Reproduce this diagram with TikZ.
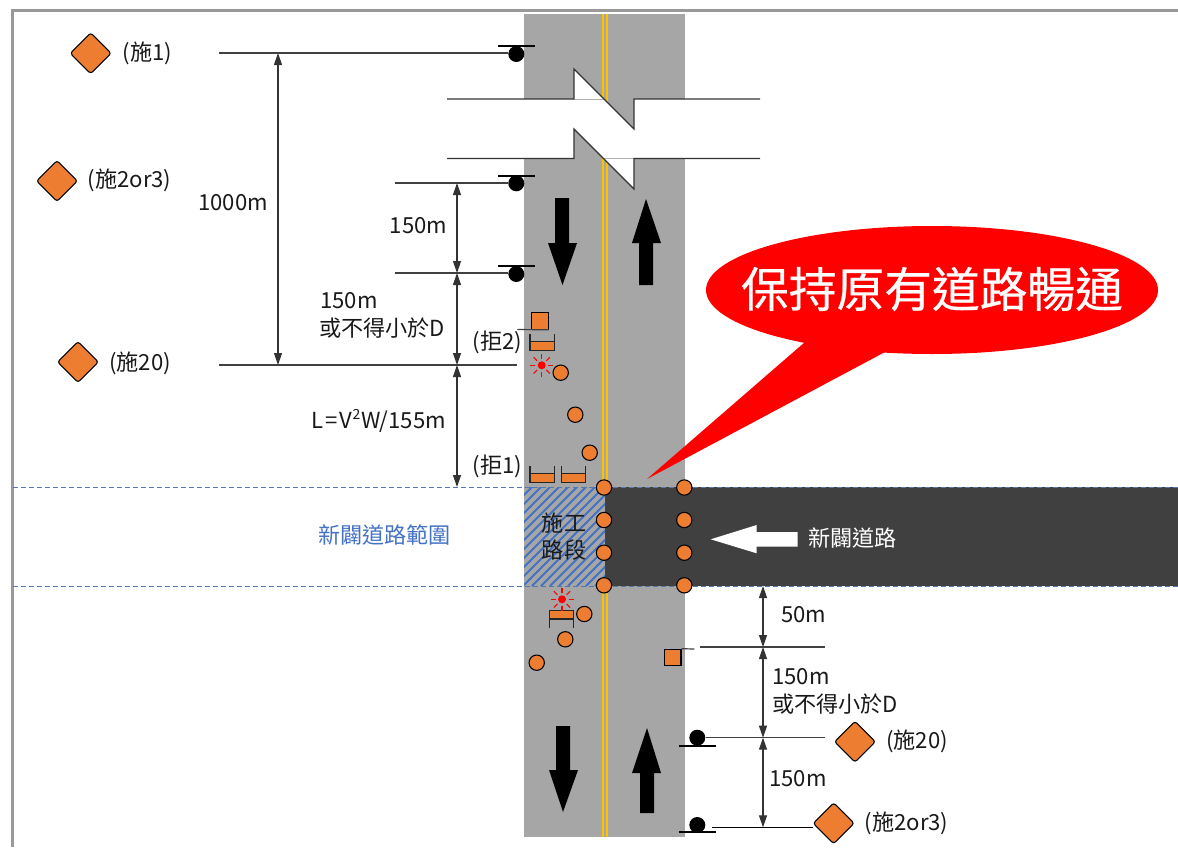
\documentclass[tikz,border=0pt]{standalone}
\usepackage{fontspec}
\setmainfont{Noto Sans CJK TC}
\usetikzlibrary{shapes.geometric,arrows.meta,calc}
\definecolor{sorange}{HTML}{ED7D31}
\definecolor{sblue}{HTML}{4472C4}
\definecolor{road}{HTML}{A6A6A6}
\definecolor{dark}{HTML}{404040}
\definecolor{syellow}{HTML}{FFC000}
\tikzset{
 x=0.75pt,y=-0.75pt,
 diasign/.style={diamond,aspect=1,draw=black,fill=sorange,line width=0.8pt,rounded corners=2pt,minimum size=31pt,inner sep=0pt},
 cone/.style={circle,draw=black,fill=sorange,line width=0.8pt,minimum size=11.5pt,inner sep=0pt},
 post/.style={circle,fill=black,minimum size=12pt,inner sep=0pt},
 postbar/.style={line width=1.6pt,black},
 sq/.style={rectangle,draw=black,fill=sorange,line width=0.8pt,minimum size=12.4pt,inner sep=0pt},
 lead/.style={line width=0.9pt,draw=black!75},
 dim/.style={line width=0.9pt,draw=black!80,{Triangle[length=9pt,width=6pt]}-{Triangle[length=9pt,width=6pt]}},
 lab/.style={font=\fontsize{16.6pt}{18pt}\selectfont,text=black!90,inner sep=0pt,align=left},
 boundary/.style={line width=0.6pt,draw=sblue!70!gray,dash pattern=on 4pt off 2pt},
 breakline/.style={line width=0.9pt,draw=black!80},
 roadarrow/.style={fill=black,draw=none},
 lamp/.style={circle,fill=red,minimum size=6pt,inner sep=0pt},
 lampray/.style={red,line width=0.8pt},
 barrier/.style={draw=black!85,line width=0.8pt},
}
\newcommand{\lamprays}[1]{\foreach \a in {0,45,...,315}{\draw[lampray] ($(#1)+(\a:6.5)$) -- ($(#1)+(\a:11.5)$);}}
\begin{document}
\begin{tikzpicture}
\useasboundingbox (0,0) rectangle (1178,847);
\fill[white] (0,0) rectangle (1178,847);
% frame
\draw[line width=1.6pt,draw=black!40] (12.5,847) -- (12.5,10.5) -- (1178,10.5);
% road
\fill[road] (524,14) rectangle (685,837);
\fill[dark] (605,487) rectangle (1178,586);
% hatch
\begin{scope}
\clip (524,487) rectangle (605,586);
\fill[road] (524,487) rectangle (605,586);
\foreach \i in {0,9,...,207}{\draw[sblue,line width=1.5pt] (524+\i-100,586) -- (524+\i,486);}
\end{scope}
% yellow
\draw[syellow,line width=1.5pt] (602.7,14) -- (602.7,487) (602.7,586) -- (602.7,837);
\draw[syellow,line width=1.5pt] (606.7,14) -- (606.7,487) (606.7,586) -- (606.7,837);
% break
\fill[white] (447,99) -- (574,99) -- (574,69) -- (634,129) -- (634,99) -- (760,99) -- (760,158.5) -- (634,158.5) -- (634,189) -- (574,129) -- (574,158.5) -- (447,158.5) -- cycle;
\draw[line width=0.5pt,black!30] (574,99) -- (604,99) (604,158.5) -- (634,158.5);
\draw[breakline] (447,99) -- (574,99) -- (574,69) -- (634,129) -- (634,99) -- (760,99);
\draw[breakline] (447,158.5) -- (574,158.5) -- (574,129) -- (634,189) -- (634,158.5) -- (760,158.5);
% boundaries
\draw[boundary] (13,487) -- (1178,487);
\draw[boundary] (13,586) -- (1178,586);
% road arrows
\fill[roadarrow] (555,198) -- (569,198) -- (569,243) -- (577,243) -- (562.5,285) -- (548,243) -- (555,243) -- cycle;
\fill[roadarrow] (639,285) -- (653,285) -- (653,243) -- (661,243) -- (646,199) -- (632,243) -- (639,243) -- cycle;
\fill[roadarrow] (556,726) -- (570,726) -- (570,770) -- (578,770) -- (563,812) -- (549,770) -- (556,770) -- cycle;
\fill[roadarrow] (640,813) -- (654,813) -- (654,773) -- (661,773) -- (647,728) -- (632,773) -- (640,773) -- cycle;
\fill[white] (797.7,532) -- (756.7,532) -- (756.7,525) -- (710.7,539.3) -- (756.7,553.3) -- (756.7,546.7) -- (797.7,546.7) -- cycle;
% callout
\fill[red] (647,479) -- (805,342) -- (885,352) -- cycle;
\node[ellipse,fill=red,minimum width=339pt,minimum height=96pt,inner sep=0pt] (callout) at (932,290) {};
\node[font=\fontsize{35.8pt}{40pt}\selectfont\addfontfeature{FakeBold=0.4},text=white,inner sep=0pt] (callouttext) at (932,289) {保持原有道路暢通};
% cones
\foreach \n/\p in {a/{604,487.5},b/{604,520},c/{604,552.7},d/{604,585.3},e/{684.3,487.5},f/{684.3,520},g/{684.3,552.7},h/{684.3,585.3},i/{560.7,372.7},j/{575.3,414.7},k/{589.7,452.7},l/{584.3,614},m/{565.3,639.3},n/{536.7,662.7}}
  \node[cone] (cone\n) at (\p) {};
% squares
\node[sq] (sq1) at (540,321) {};
\draw[lead] (517.3,329.5) -- (sq1.south east);
\node[sq] (sq2) at (672.7,657.5) {};
\coordinate (sq2end) at (694.3,649);
\draw[lead] (sq2.north east) -- (sq2end);
% barriers
\fill[sorange] (530,341.7) rectangle (554.3,350.7);
\draw[barrier] (530,334) -- (530,350.7) -- (554.3,350.7) -- (554.3,334) (530,341.7) -- (554.3,341.7);
\fill[sorange] (530,473.5) rectangle (554.3,482.7);
\draw[barrier] (530,466) -- (530,482.7) -- (554.3,482.7) -- (554.3,466) (530,473.5) -- (554.3,473.5);
\fill[sorange] (561.3,473.5) rectangle (585.3,482.7);
\draw[barrier] (561.3,466) -- (561.3,482.7) -- (585.3,482.7) -- (585.3,466) (561.3,473.5) -- (585.3,473.5);
\fill[sorange] (549.3,610.3) rectangle (573.3,619);
\draw[barrier] (549.3,627.7) -- (549.3,610.3) -- (573.3,610.3) -- (573.3,627.7) (549.3,619) -- (573.3,619);
% lamps
\node[lamp] (lamp1) at (541.7,365.3) {};
\lamprays{lamp1.center}
\node[lamp] (lamp2) at (562,599.3) {};
\lamprays{lamp2.center}
% posts
\node[post] (p1) at (516.3,54) {};
\node[post] (p2) at (516.3,183.3) {};
\node[post] (p3) at (516.3,274) {};
\node[post] (p4) at (697.3,737.7) {};
\node[post] (p5) at (697.3,825) {};
\draw[postbar] (498,46.3) -- (534.5,46.3);
\draw[postbar] (498,175.7) -- (534.5,175.7);
\draw[postbar] (498,266) -- (534.5,266);
\draw[postbar] (679,746) -- (716,746);
\draw[postbar] (679,832.3) -- (716,832.3);
% diamonds
\node[diasign] (d1) at (90.7,53.3) {};
\node[diasign] (d2) at (57,181) {};
\node[diasign] (d3) at (78,362) {};
\node[diasign] (d4) at (855,741.7) {};
\node[diasign] (d5) at (833.7,823.3) {};
% leaders
\coordinate (l1) at (219,53);
\coordinate (l2) at (395,183);
\coordinate (l3) at (395,273);
\coordinate (l4) at (219,365);
\coordinate (l4e) at (517,365);
\coordinate (l5) at (700,647);
\coordinate (l5e) at (825,647);
\coordinate (l6) at (706,737.7);
\coordinate (l6e) at (825,737.7);
\coordinate (l7) at (712,827.3);
\draw[lead] (l1) -- (p1.west |- l1);
\draw[lead] (l2) -- (p2.west |- l2);
\draw[lead] (l3) -- (p3.west |- l3);
\draw[lead] (l4) -- (l4e);
\draw[lead] (l5) -- (l5e);
\draw[lead] (l6) -- (l6e);
\draw[line width=0.9pt,black] (l7) -- (d5.west |- l7);
% dimensions
\coordinate (u1) at (278,53); \coordinate (u2) at (278,365);
\coordinate (v1) at (457,183); \coordinate (v2) at (457,273); \coordinate (v3) at (457,365); \coordinate (v4) at (457,487);
\coordinate (w1) at (763,586); \coordinate (w2) at (763,647); \coordinate (w3) at (763,737.7); \coordinate (w4) at (763,827.3);
\draw[dim] (u1) -- (u2);
\draw[dim] (v1) -- (v2);
\draw[dim] (v2) -- (v3);
\draw[dim] (v3) -- (v4);
\draw[dim] (w1) -- (w2);
\draw[dim] (w2) -- (w3);
\draw[dim] (w3) -- (w4);
% labels
\node[lab,anchor=west] (t1) at (122.5,53.5) {(施1)};
\node[lab,anchor=west] (t2) at (87.5,180) {(施2or3)};
\node[lab,anchor=west] (t3) at (109,363) {(施20)};
\node[lab,anchor=west] (t4) at (198,203) {1000m};
\node[lab,anchor=west] (t5) at (389.5,226) {150m};
\node[lab,anchor=west] (t6) at (320,301) {150m};
\node[lab,anchor=west] (t7) at (319,328) {或不得小於D};
\node[lab,anchor=west] (t8) at (472.5,342) {(拒2)};
\node[lab,anchor=west] (t9) at (311,421) {L\kern1.5pt=\kern1.5pt V\kern0.3pt\raisebox{0.42em}{\fontsize{10.5pt}{10pt}\selectfont 2}\kern0.5pt W/155m};
\node[lab,anchor=west] (t10) at (472.5,466) {(拒1)};
\node[lab,anchor=center,text=sblue] (t11) at (384.5,535) {新闢道路範圍};
\node[lab,anchor=center] (t12) at (564,523) {施工};
\node[lab,anchor=center] (t13) at (564,550) {路段};
\node[lab,anchor=west,text=white] (t14) at (808,538) {新闢道路};
\node[lab,anchor=west] (t15) at (781,615) {50m};
\node[lab,anchor=west] (t16) at (772,677) {150m};
\node[lab,anchor=west] (t17) at (772,704) {或不得小於D};
\node[lab,anchor=west] (t18) at (769,779) {150m};
\node[lab,anchor=west] (t19) at (886,741) {(施20)};
\node[lab,anchor=west] (t20) at (864.5,823) {(施2or3)};
\end{tikzpicture}
\end{document}
